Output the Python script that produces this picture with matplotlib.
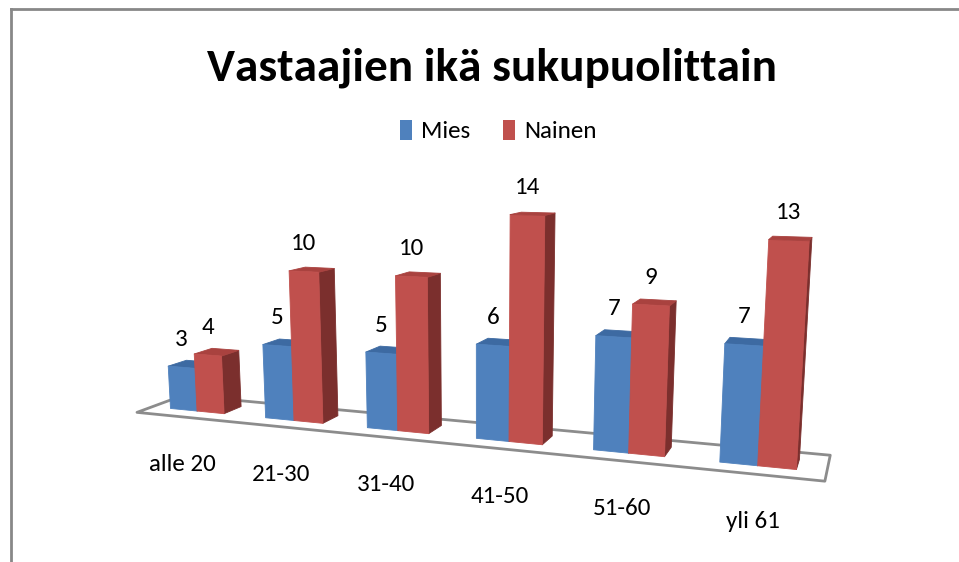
import numpy as np
import matplotlib
matplotlib.use("Agg")
import matplotlib.pyplot as plt
from matplotlib.patches import Patch
from matplotlib.lines import Line2D
from matplotlib.text import Text
from mpl_toolkits.mplot3d import proj3d
from mpl_toolkits.mplot3d.art3d import Poly3DCollection

# data
categories = ["alle 20", "21-30", "31-40", "41-50", "51-60", "yli 61"]
mies = [3, 5, 5, 6, 7, 7]
nainen = [4, 10, 10, 14, 9, 13]
series_names = ["Mies", "Nainen"]
title = "Vastaajien ikä sukupuolittain"

plt.rcParams['font.family'] = ['Carlito', 'DejaVu Sans']

# colours: front, top, right side
BLUE = ("#4f81bd", "#3d6aa2", "#2f5480")
RED = ("#c0504d", "#a9423f", "#7b2f2d")
NONE = (0, 0, 0, 0)

# 3d layout (Excel style: gap width 150 %, square bars)
W_BAR = 1 / 3.5
D_BAR = W_BAR
Y0 = 0.75 * D_BAR
FLOOR_D = 2.5 * D_BAR
VALUE_H = 0.1327          # height of one count, in category widths

# camera
F_PX = 1124.0             # focal length in pixels
YAW, ELEV = 20.0, 11.0
CAM_DIST = 10.0
TARGET = (2.473, 0.965, 4.48)   # looked-at point (category, depth, value)
TARGET_PX = (480, 350)          # where it lands, pixels from top-left
HALF = 5.0

W, H = 959, 562
fig = plt.figure(figsize=(W / 100, H / 100), dpi=100)
ax = fig.add_axes([0, 0, 1, 1], projection='3d', computed_zorder=False)

n = len(categories)
x = np.arange(n)

# floor
floor = [[(x[0] - 0.5, 0, 0), (x[-1] + 0.5, 0, 0),
          (x[-1] + 0.5, FLOOR_D, 0), (x[0] - 0.5, FLOOR_D, 0)]]
ax.add_collection3d(Poly3DCollection(floor, facecolor="white", edgecolor="#8c8c8c",
                                     linewidth=2, zorder=1))


def face_colors(cols, count):
    front, top, side = cols
    # bar3d face order: -z, +z, -y, +y, -x, +x
    one = [NONE, top, front, NONE, NONE, side]
    return [c for _ in range(count) for c in one]


for vals, offset, cols, z in [(mies, -W_BAR, BLUE, 2), (nainen, 0.0, RED, 3)]:
    fc = face_colors(cols, n)
    ax.bar3d(x + offset, np.full(n, Y0), np.zeros(n), W_BAR, D_BAR, vals,
             color=fc, edgecolor=fc, linewidth=0.6, shade=False, zorder=z)

ax.set_xlim(TARGET[0] - HALF, TARGET[0] + HALF)
ax.set_ylim(TARGET[1] - HALF, TARGET[1] + HALF)
ax.set_zlim(TARGET[2] - HALF / VALUE_H, TARGET[2] + HALF / VALUE_H)
ax.set_xticks([])
ax.set_yticks([])
ax.set_zticks([])
ax.set_box_aspect((1, 1, 1))
ax.view_init(elev=ELEV, azim=-90 + YAW)
side = ax._box_aspect[0]
f_m = CAM_DIST * side / (10 * 2 * HALF)
ax.set_proj_type('persp', focal_length=f_m)
ax.set_axis_off()
for t in ax.findobj(Text):
    t.set_visible(False)

# labels: project the 3d anchor points, then offset in pixels
M = ax.get_proj()


def label(xs, ys, zs, s, dx, dy):
    xv, yv, _ = proj3d.proj_transform(xs, ys, zs, M)
    ax.annotate(s, (xv, yv), xytext=(dx, dy), textcoords='offset pixels',
                ha='center', va='center', fontsize=18, color='black', zorder=6)


for vals, offset in [(mies, -W_BAR / 2), (nainen, W_BAR / 2)]:
    for xi, v in zip(x, vals):
        label(xi + offset, Y0, v, str(v), 0, 28)

for xi, cat in zip(x, categories):
    label(xi, 0, 0, cat, -1, -48)

# size and place the 3d axes so the camera matches the reference
fig.canvas.draw()
vx0, vx1 = ax.viewLim.intervalx
vy0, vy1 = ax.viewLim.intervaly
S = F_PX / f_m * (vx1 - vx0)
left = TARGET_PX[0] + vx0 / (vx1 - vx0) * S
bottom = (H - TARGET_PX[1]) + vy0 / (vy1 - vy0) * S
ax.set_position([left / W, bottom / H, S / W, S / H])

fig.text(492 / W, 1 - 80 / H, title, ha='center', va='baseline', fontsize=34,
         fontweight='bold')

handles = [Patch(facecolor=BLUE[0]), Patch(facecolor=RED[0])]
fig.legend(handles, series_names, loc='center', bbox_to_anchor=(498 / W, 1 - 131 / H),
           ncol=2, frameon=False, fontsize=18, handlelength=0.5, handleheight=0.9,
           handletextpad=0.35, columnspacing=1.3)

# chart border (left and top edges are visible in the reference)
fig.add_artist(Line2D([11 / W, 11 / W], [0, 1 - 9 / H], transform=fig.transFigure,
                      color="#888888", lw=2))
fig.add_artist(Line2D([11 / W, 1], [1 - 9 / H, 1 - 9 / H], transform=fig.transFigure,
                      color="#888888", lw=2))

fig.savefig("out.png", dpi=100)
